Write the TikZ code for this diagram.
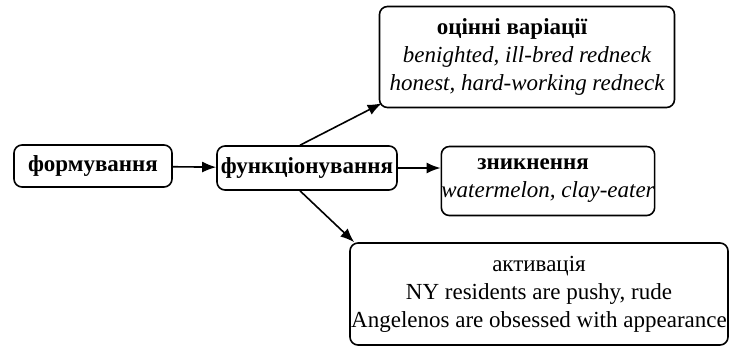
\documentclass[tikz,border=0pt]{standalone}
\usepackage{fontspec}
\setmainfont{Liberation Serif}
\usetikzlibrary{arrows.meta}
\begin{document}
\begin{tikzpicture}[x=1pt, y=-1pt,
  box/.style={draw, line width=1.6pt, rounded corners=8pt, align=center, inner sep=0pt, font=\fontsize{23}{28}\selectfont},
  arr/.style={-{Latex[length=14pt,width=11pt]}, line width=1.6pt}]
\useasboundingbox (0,0) rectangle (730,349);
\node [box, minimum width=158pt, minimum height=42pt] (form) at (93,166) {\bfseries формування};
\node [box, minimum width=180pt, minimum height=44pt] (func) at (307,168) {\bfseries функціонування};
\node [box, minimum width=295pt, minimum height=101pt] (ocin) at (527,57)
  {\bfseries оцінні варіації\hspace*{30pt}\\ \itshape benighted, ill-bred redneck\\ \itshape honest, hard-working redneck};
\node [box, minimum width=213pt, minimum height=69pt] (znyk) at (548,181)
  {\bfseries зникнення\hspace*{30pt}\\ \itshape watermelon, clay-eater};
\node [box, minimum width=378pt, minimum height=102pt] (aktyv) at (539,294)
  {активація\\ NY residents are pushy, rude\\ Angelenos are obsessed with appearance};
\draw [arr] (form) -- (func);
\draw [arr] ([xshift=-7pt]func.north) -- ([shift={(3,-5)}]ocin.south west);
\draw [arr] (func.east) -- (znyk.west |- func.east);
\draw [arr] ([xshift=-7pt]func.south) -- ([xshift=5pt]aktyv.north west);
\end{tikzpicture}
\end{document}
